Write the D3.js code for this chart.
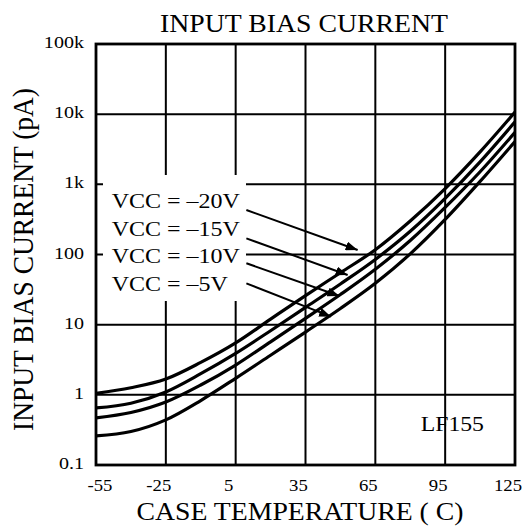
<!DOCTYPE html>
<html><head><meta charset="utf-8">
<script src="https://cdn.jsdelivr.net/npm/d3@7"></script>
<style>
body{margin:0;background:#fff}
svg{display:block}
text{font-family:"Liberation Serif","Times New Roman",serif;fill:#000}
</style>
</head><body>
<svg id="c" width="528" height="527"></svg>
<script>
// ---- data ----
const temps = [-55,-40,-25,-10,5,20,35,50,65,80,95,110,125];
const seriesNames = ["VCC = \u201320V","VCC = \u201315V","VCC = \u201310V","VCC = \u20135V"];
const vcc20 = [1.05,1.26,1.68,2.9,5.5,12,26,55,117,300,870,2900,10700];
const vcc15 = [0.65,0.76,1.10,2.0,3.9,8.2,17.6,38,85,214,630,2090,7760];
const vcc10 = [0.47,0.56,0.79,1.38,2.66,5.7,12.3,26.9,61.7,158,468,1510,5500];
const vcc5  = [0.26,0.30,0.44,0.83,1.72,3.67,7.85,17,38.9,102,316,1100,4070];
const xTicks = [-55,-25,5,35,65,95,125];
const xTickLabels = ["-55","-25","5","35","65","95","125"];
const yTicks = [0.1,1,10,100,1000,10000,100000];
const yTickLabels = ["0.1","1","10","100","1k","10k","100k"];
// arrow annotations in data units: [temperature, pA]
const arrowFrom = [[9.6,430],[9.6,170],[9.6,75],[9.6,38.8]];
const arrowTo   = [[57.4,116],[53.1,51],[49.6,25.6],[46.0,13]];
const title = "INPUT BIAS CURRENT";
const xTitle = "CASE TEMPERATURE ( C)";
const yTitle = "INPUT BIAS CURRENT  (pA)";
const partLabel = "LF155";

// ---- layout ----
const L = 96, R = 515, T = 44, B = 465;
const svg = d3.select("#c");
const x = d3.scaleLinear().domain([-55,125]).range([L,R]);
const y = d3.scaleLog().domain([0.1,100000]).range([B,T]);

function stretch(sel, k){
  sel.each(function(){
    const len = this.getComputedTextLength();
    this.setAttribute("textLength", len*k);
    this.setAttribute("lengthAdjust","spacingAndGlyphs");
  });
  return sel;
}

// grid
const g = svg.append("g");
g.selectAll("line.v").data(xTicks.slice(1,-1)).join("line")
  .attr("x1",d=>x(d)).attr("x2",d=>x(d)).attr("y1",T).attr("y2",B)
  .attr("stroke","#000").attr("stroke-width",2);
g.selectAll("line.h").data(yTicks.slice(1,-1)).join("line")
  .attr("y1",d=>y(d)).attr("y2",d=>y(d)).attr("x1",L).attr("x2",R)
  .attr("stroke","#000").attr("stroke-width",2);

// white box behind legend text
svg.append("rect").attr("x",L+7).attr("y",175).attr("width",143).attr("height",126).attr("fill","#fff");

// curves
const clip = svg.append("clipPath").attr("id","pc").append("rect")
  .attr("x",L).attr("y",T).attr("width",R-L).attr("height",B-T);
const series = [vcc20,vcc15,vcc10,vcc5];
const line = d3.line().x(d=>x(d[0])).y(d=>y(d[1])).curve(d3.curveMonotoneX);
svg.append("g").attr("clip-path","url(#pc)").selectAll("path").data(series).join("path")
  .attr("d",s=>line(temps.map((t,i)=>[t,s[i]])))
  .attr("fill","none").attr("stroke","#000").attr("stroke-width",3.2);

// frame
svg.append("rect").attr("x",L).attr("y",T).attr("width",R-L).attr("height",B-T)
  .attr("fill","none").attr("stroke","#000").attr("stroke-width",2.8);

// arrows
const defs = svg.append("defs");
defs.append("marker").attr("id","ah").attr("markerUnits","userSpaceOnUse")
  .attr("markerWidth",12).attr("markerHeight",9).attr("refX",12).attr("refY",4.5)
  .attr("orient","auto")
  .append("path").attr("d","M0,0L12,4.5L0,9Z").attr("fill","#000");
svg.append("g").selectAll("line").data(arrowFrom).join("line")
  .attr("x1",d=>x(d[0])).attr("y1",d=>y(d[1]))
  .attr("x2",(d,i)=>x(arrowTo[i][0])).attr("y2",(d,i)=>y(arrowTo[i][1]))
  .attr("stroke","#000").attr("stroke-width",2).attr("marker-end","url(#ah)");

// legend text
const lg = svg.append("g").selectAll("text").data(seriesNames).join("text")
  .attr("x",111.7).attr("y",(d,i)=>208.3+i*27.5)
  .attr("font-size",20).text(d=>d);
stretch(lg,1.2);

// part label
stretch(svg.append("text").attr("x",420.7).attr("y",430.7).attr("font-size",21).text(partLabel),1.13);

// y tick labels
const yl = svg.append("g").selectAll("text").data(yTicks).join("text")
  .attr("x",84).attr("y",d=>y(d)+4).attr("text-anchor","end")
  .attr("font-size",17).text((d,i)=>yTickLabels[i]);
stretch(yl,1.18);

// x tick labels
const xl = svg.append("g").selectAll("text").data(xTicks).join("text")
  .attr("x",d=>x(d)).attr("dx",(d,i)=>i===0?4:-7).attr("y",491).attr("text-anchor","middle")
  .attr("font-size",16).text((d,i)=>xTickLabels[i]);
stretch(xl,1.17);

// titles
const tt = svg.append("text").attr("x",304).attr("y",31.5).attr("text-anchor","middle")
  .attr("font-size",25).text(title);
tt.attr("textLength",288).attr("lengthAdjust","spacingAndGlyphs");
const xt = svg.append("text").attr("x",300).attr("y",520).attr("text-anchor","middle")
  .attr("font-size",26).text(xTitle);
xt.attr("textLength",327).attr("lengthAdjust","spacingAndGlyphs");
const yt = svg.append("text").attr("transform","translate(33,259.5) rotate(-90) scale(1,1.15)")
  .attr("text-anchor","middle").attr("font-size",26).text(yTitle);
yt.attr("textLength",343).attr("lengthAdjust","spacingAndGlyphs");
</script>
</body></html>
